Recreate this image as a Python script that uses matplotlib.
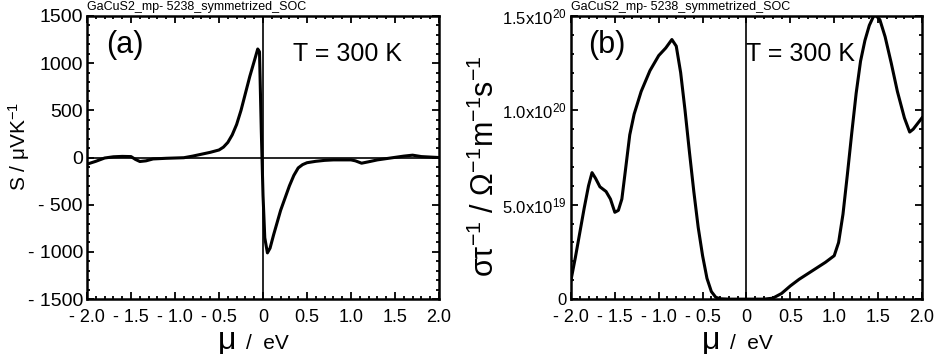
import numpy as np
import matplotlib
matplotlib.use("Agg")
import matplotlib.pyplot as plt
from matplotlib.ticker import MultipleLocator

plt.rcParams['font.family'] = ['Liberation Sans', 'DejaVu Sans']
plt.rcParams['mathtext.fontset'] = 'custom'
plt.rcParams['mathtext.rm'] = 'Liberation Sans'
plt.rcParams['mathtext.it'] = 'Liberation Sans'

title = "GaCuS2_mp- 5238_symmetrized_SOC"

# Seebeck coefficient (uV/K) vs chemical potential (eV)
mu_s = [-2.00, -1.90, -1.80, -1.70, -1.60, -1.50, -1.45, -1.40, -1.33, -1.25,
        -1.10, -1.00, -0.90, -0.80, -0.70, -0.60, -0.50, -0.45, -0.40, -0.35,
        -0.30, -0.25, -0.20, -0.15, -0.10, -0.06, -0.04, -0.02, 0.00, 0.02,
        0.05, 0.08, 0.12, 0.16, 0.20, 0.25, 0.30, 0.35, 0.40, 0.45,
        0.50, 0.60, 0.70, 0.80, 0.90, 1.00, 1.05, 1.12, 1.20, 1.30,
        1.45, 1.60, 1.70, 1.80, 1.90, 2.00]
seebeck = [-70, -40, -5, 8, 12, 10, -20, -42, -35, -15,
           -8, -5, -2, 15, 35, 55, 80, 110, 160, 240,
           350, 500, 680, 860, 1020, 1150, 1120, 300, -400, -850,
           -1010, -960, -820, -690, -560, -430, -300, -190, -110, -75,
           -55, -40, -30, -25, -25, -25, -35, -60, -45, -25,
           -5, 15, 25, 10, 5, 0]

# sigma/tau (1e19 1/(Ohm m s)) vs chemical potential (eV)
mu_c = [-2.00, -1.95, -1.90, -1.85, -1.80, -1.76, -1.72, -1.67, -1.60, -1.55,
        -1.50, -1.46, -1.42, -1.38, -1.33, -1.28, -1.20, -1.10, -1.00, -0.92,
        -0.85, -0.80, -0.75, -0.70, -0.65, -0.60, -0.55, -0.50, -0.45, -0.40,
        -0.35, -0.30, -0.20, 0.00, 0.20, 0.30, 0.40, 0.50, 0.60, 0.70,
        0.80, 0.90, 1.00, 1.05, 1.10, 1.15, 1.20, 1.25, 1.30, 1.35,
        1.40, 1.46, 1.52, 1.58, 1.65, 1.72, 1.80, 1.86, 1.90, 1.95, 2.00]
sigma = [1.0, 2.2, 3.5, 4.8, 6.0, 6.7, 6.4, 5.95, 5.7, 5.3,
         4.6, 4.7, 5.3, 6.8, 8.7, 9.8, 11.0, 12.1, 12.9, 13.3,
         13.75, 13.4, 12.0, 10.0, 7.8, 5.7, 3.8, 2.3, 1.1, 0.4,
         0.1, 0.02, 0.0, 0.0, 0.0, 0.05, 0.3, 0.7, 1.05, 1.35,
         1.65, 1.95, 2.3, 3.0, 4.5, 6.6, 8.8, 10.9, 12.6, 13.7,
         14.5, 15.1, 14.8, 13.9, 12.5, 11.0, 9.6, 8.85, 9.0, 9.3, 9.6]
sigma = np.array(sigma) * 1e19

x_ticks = [-2.0, -1.5, -1.0, -0.5, 0, 0.5, 1.0, 1.5, 2.0]
x_labels = ["- 2.0", "- 1.5", "- 1.0", "- 0.5", "0", "0.5", "1.0", "1.5", "2.0"]
s_ticks = [-1500, -1000, -500, 0, 500, 1000, 1500]
s_labels = ["- 1500", "- 1000", "- 500", "0", "500", "1000", "1500"]
c_ticks = [0, 5e19, 1e20, 1.5e20]
c_labels = ["0", r"5.0x10$^{19}$", r"1.0x10$^{20}$", r"1.5x10$^{20}$"]

fig = plt.figure(figsize=(9.36, 3.54), dpi=100)
ax1 = fig.add_axes([0.093, 0.155, 0.376, 0.800])
ax2 = fig.add_axes([0.610, 0.155, 0.375, 0.800])


def style(ax):
    for sp in ax.spines.values():
        sp.set_linewidth(1.8)
    ax.tick_params(which='both', direction='in', top=True, right=True, width=1.3)
    ax.tick_params(which='major', length=5, labelsize=13)
    ax.tick_params(axis='x', which='major', pad=7)
    ax.tick_params(axis='y', which='major', pad=3, labelsize=14)
    ax.tick_params(which='minor', length=2.5)
    ax.xaxis.set_minor_locator(MultipleLocator(0.1))
    ax.set_xlim(-2, 2)
    ax.set_xticks(x_ticks, x_labels)
    # x label: big mu followed by smaller "/  eV"
    ax.text(0.372, -0.175, "μ", transform=ax.transAxes, fontsize=23,
            va='baseline', ha='left')
    ax.text(0.452, -0.175, "/  eV", transform=ax.transAxes, fontsize=15,
            va='baseline', ha='left')
    ax.set_title(title, loc='left', fontsize=9, pad=4)
    ax.axvline(0, color='black', lw=1.2, zorder=1)


# (a) Seebeck
style(ax1)
ax1.axhline(0, color='black', lw=1.2, zorder=1)
ax1.plot(mu_s, seebeck, color='black', lw=2.2, zorder=3)
ax1.set_ylim(-1500, 1500)
ax1.set_yticks(s_ticks, s_labels)
ax1.yaxis.set_minor_locator(MultipleLocator(100))
ax1.set_ylabel(r"S / μVK$^{-1}$", fontsize=15)
ax1.yaxis.set_label_coords(-0.155, 0.54)
ax1.text(0.055, 0.87, "(a)", transform=ax1.transAxes, fontsize=22)
ax1.text(0.585, 0.84, "T = 300 K", transform=ax1.transAxes, fontsize=18)

# (b) sigma/tau
style(ax2)
ax2.plot(mu_c, sigma, color='black', lw=2.2, zorder=3, clip_on=True)
ax2.set_ylim(0, 1.5e20)
ax2.set_yticks(c_ticks, c_labels)
ax2.tick_params(axis='y', which='major', labelsize=12)
ax2.yaxis.set_minor_locator(MultipleLocator(1e19))
ax2.set_ylabel(r"στ$^{-1}$ / Ω$^{-1}$m$^{-1}$s$^{-1}$", fontsize=22)
ax2.yaxis.set_label_coords(-0.2, 0.47)
ax2.text(0.048, 0.87, "(b)", transform=ax2.transAxes, fontsize=22)
ax2.text(0.50, 0.84, "T = 300 K", transform=ax2.transAxes, fontsize=18)

fig.savefig("out.png", dpi=100)
